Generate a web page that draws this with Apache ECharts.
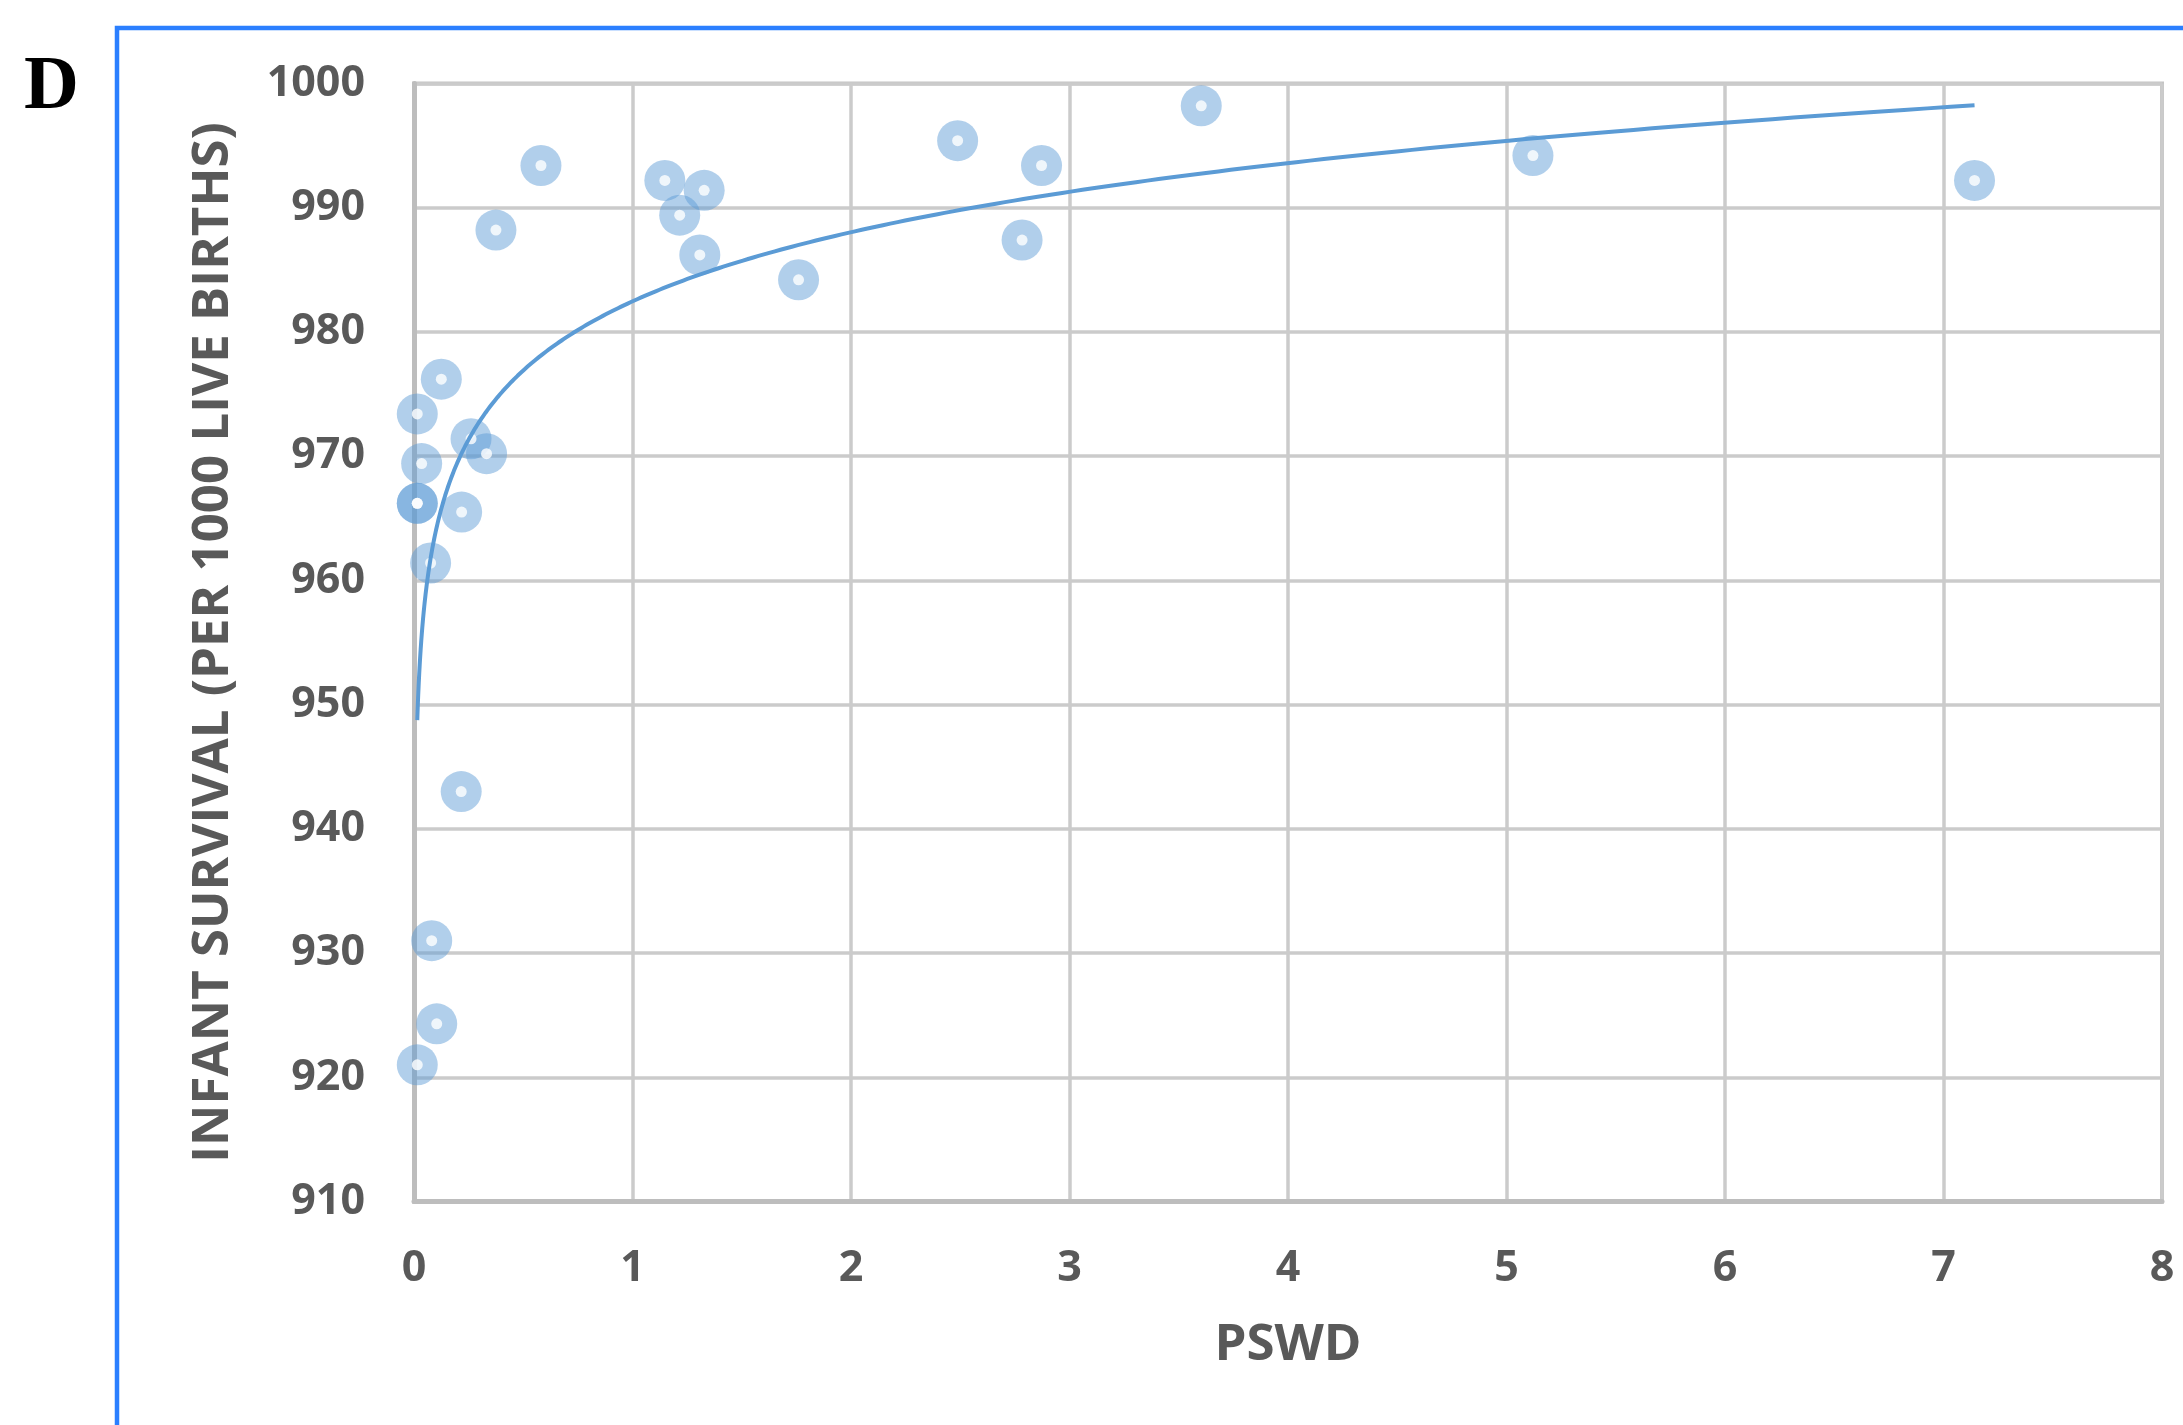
<!DOCTYPE html>
<html>
<head>
<meta charset="utf-8">
<title>Infant survival vs PSWD</title>
<script src="https://cdn.jsdelivr.net/npm/echarts@6/dist/echarts.min.js"></script>
<style>
  html, body { margin: 0; padding: 0; background: #fff; }
  #chart { width: 2183px; height: 1425px; }
</style>
</head>
<body>
<div id="chart"></div>
<script>
// one entry per country
const pswd = [
  0.015, 0.035, 0.015, 0.015, 0.125, 0.261, 0.332, 0.218, 0.076,
  0.216, 0.081, 0.104, 0.015, 0.375, 0.581, 1.148, 1.216, 1.328,
  1.308, 1.760, 2.488, 2.783, 2.872, 3.603, 5.121, 7.142,
]
const survival = [
  973.4, 969.4, 966.2, 966.2, 976.2, 971.4, 970.2, 965.5, 961.4,
  943.0, 931.0, 924.3, 921.0, 988.2, 993.4, 992.2, 989.4, 991.4,
  986.2, 984.2, 995.4, 987.4, 993.4, 998.2, 994.2, 992.2,
]

const xAxisRange = [0, 8]
const yAxisRange = [910, 1000]
const xTitle = 'PSWD'
const yTitle = 'INFANT SURVIVAL (PER 1000 LIVE BIRTHS)'
const panelLetter = 'D'

const points = pswd.map((x, i) => [x, survival[i]])

// logarithmic trendline y = a ln(x) + b, least squares like Excel does it
function logFit(xs, ys) {
  const ls = xs.map((x) => Math.log(x))
  const n = ls.length
  const lm = ls.reduce((s, v) => s + v, 0) / n
  const ym = ys.reduce((s, v) => s + v, 0) / n
  let sxy = 0
  let sxx = 0
  ls.forEach((l, i) => {
    sxy += (l - lm) * (ys[i] - ym)
    sxx += (l - lm) * (l - lm)
  })
  const a = sxy / sxx
  return { a, b: ym - a * lm }
}

const fit = logFit(pswd, survival)
const xLo = Math.min(...pswd)
const xHi = Math.max(...pswd)
const trend = []
for (let i = 0; i <= 400; i++) {
  const x = xLo * Math.pow(xHi / xLo, i / 400)
  trend.push([x, fit.a * Math.log(x) + fit.b])
}

const textGray = '#595959'
const gridGray = '#CBCBCB'
const axisGray = '#BDBDBD'

const chart = echarts.init(document.getElementById('chart'))

chart.setOption({
  backgroundColor: '#ffffff',
  animation: false,
  grid: {
    left: 414,
    top: 83.5,
    width: 1748,
    height: 1118,
    show: true,
    borderColor: '#C4C4C4',
    borderWidth: 4,
    containLabel: false,
    outerBoundsMode: 'none',
  },
  xAxis: {
    type: 'value',
    min: xAxisRange[0],
    max: xAxisRange[1],
    interval: 1,
    name: xTitle,
    nameLocation: 'middle',
    nameGap: 118,
    nameTextStyle: {
      color: textGray,
      fontSize: 51,
      fontWeight: 'bold',
      fontFamily: 'Open Sans',
    },
    axisLine: { show: true, lineStyle: { color: axisGray, width: 5 } },
    axisTick: { show: false },
    axisLabel: {
      margin: 46,
      color: textGray,
      fontSize: 43,
      fontWeight: 'bold',
      fontFamily: 'Open Sans',
    },
    splitLine: { show: true, lineStyle: { color: gridGray, width: 3.5 } },
  },
  yAxis: {
    type: 'value',
    min: yAxisRange[0],
    max: yAxisRange[1],
    interval: 10,
    name: yTitle,
    nameLocation: 'middle',
    nameRotate: 90,
    nameGap: 175,
    nameTextStyle: {
      color: textGray,
      fontSize: 51,
      fontWeight: 'bold',
      fontFamily: 'Open Sans',
    },
    axisLine: { show: true, lineStyle: { color: axisGray, width: 5 } },
    axisTick: { show: false },
    axisLabel: {
      margin: 49,
      color: textGray,
      fontSize: 43,
      fontWeight: 'bold',
      fontFamily: 'Open Sans',
      formatter: (v) => String(v),
    },
    splitLine: { show: true, lineStyle: { color: gridGray, width: 3.5 } },
  },
  series: [
    {
      name: 'Countries',
      type: 'scatter',
      data: points,
      symbol: 'circle',
      symbolSize: 41,
      itemStyle: { color: 'rgba(91,155,213,0.6)' },
      z: 3,
    },
    {
      name: 'Centres',
      type: 'scatter',
      data: points,
      symbol: 'circle',
      symbolSize: 11,
      itemStyle: { color: '#ffffff' },
      z: 4,
    },
    {
      name: 'Log trend',
      type: 'line',
      data: trend,
      showSymbol: false,
      smooth: false,
      lineStyle: { color: '#5B9BD5', width: 4 },
      z: 5,
    },
  ],
  graphic: [
    {
      type: 'polyline',
      shape: { points: [[117, 1440], [117, 28], [2200, 28]] },
      style: { stroke: '#2B7FFF', lineWidth: 4.5, fill: null },
    },
    {
      type: 'text',
      x: 24,
      y: 88,
      style: {
        text: panelLetter,
        font: 'bold 76px "Liberation Serif"',
        fill: '#000000',
        verticalAlign: 'middle',
      },
    },
  ],
})
</script>
</body>
</html>
